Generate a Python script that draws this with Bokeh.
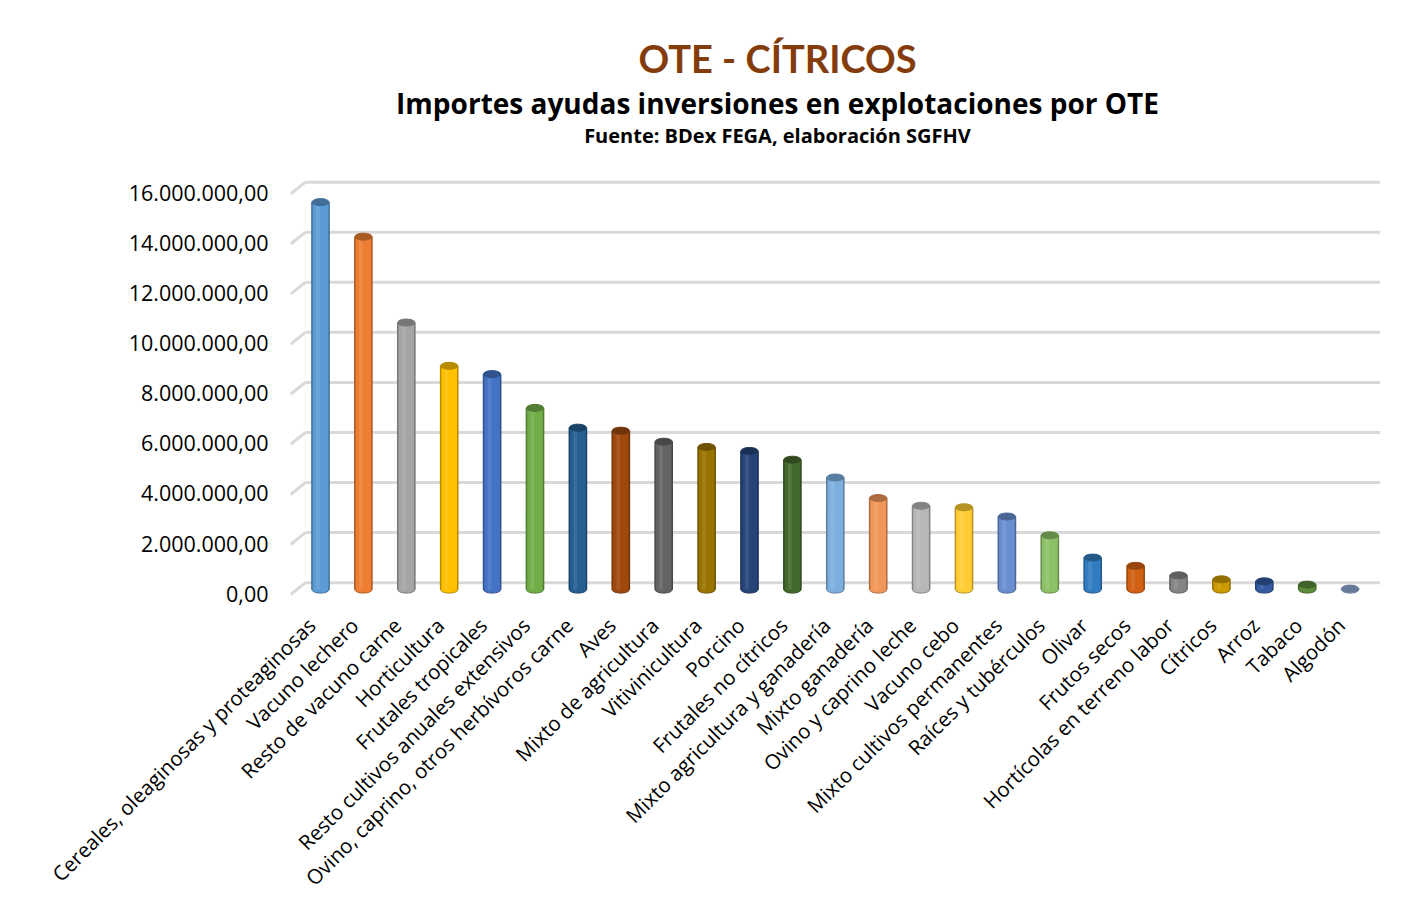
from math import pi
from bokeh.plotting import figure
from bokeh.models import Range1d, FixedTicker, Label
from bokeh.embed import file_html
from bokeh.resources import INLINE

# ---------------- data ----------------
categories = [
    "Cereales, oleaginosas y proteaginosas", "Vacuno lechero", "Resto de vacuno carne",
    "Horticultura", "Frutales tropicales", "Resto cultivos anuales extensivos",
    "Ovino, caprino, otros herbívoros carne", "Aves", "Mixto de agricultura",
    "Vitivinicultura", "Porcino", "Frutales no cítricos", "Mixto agricultura y ganadería",
    "Mixto ganadería", "Ovino y caprino leche", "Vacuno cebo", "Mixto cultivos permanentes",
    "Raíces y tubérculos", "Olivar", "Frutos secos", "Hortícolas en terreno labor",
    "Cítricos", "Arroz", "Tabaco", "Algodón",
]
values = [
    15480000, 14100000, 10670000, 8940000, 8610000, 7260000, 6470000, 6350000, 5910000,
    5700000, 5540000, 5190000, 4480000, 3660000, 3350000, 3290000, 2920000,
    2170000, 1280000, 950000, 570000, 410000, 330000, 200000, 40000,
]
colors = [
    "#5B9BD5", "#ED7D31", "#A5A5A5", "#FFC000", "#4472C4", "#70AD47", "#255E91", "#9E480E",
    "#636363", "#997300", "#264478", "#43682B", "#7CAFDD", "#F1975A", "#B7B7B7", "#FFCD33",
    "#698ED0", "#8CC168", "#327DC2", "#D26012", "#848484", "#CC9A00", "#335AA1", "#5A8A39",
    "#8EA9D2",
]
y_ticks = [0, 2000000, 4000000, 6000000, 8000000, 10000000, 12000000, 14000000, 16000000]
y_tick_labels = ["0,00", "2.000.000,00", "4.000.000,00", "6.000.000,00", "8.000.000,00",
                 "10.000.000,00", "12.000.000,00", "14.000.000,00", "16.000.000,00"]

title_text = "OTE - CÍTRICOS"
subtitle_text = "Importes ayudas inversiones en explotaciones por OTE"
source_text = "Fuente: BDex FEGA, elaboración SGFHV"

# ---------------- layout helpers (picture pixel -> data) ----------------
CAT_PX = 42.9      # px per category
X0_PX = 320.0      # x of first category centre
BASE_PX = 593.0    # y of value 0
UNIT_PX = 25.2 / 1e6  # px per unit value

def dx(px):
    return (px - X0_PX) / CAT_PX

def dy(py):
    return (BASE_PX - py) / UNIT_PX

def px2val(p):
    return p / UNIT_PX

def shade(hexcol, f):
    h = hexcol.lstrip("#")
    r, g, b = (int(h[i:i + 2], 16) for i in (0, 2, 4))
    if f < 1:
        r, g, b = (int(c * f) for c in (r, g, b))
    else:
        t = f - 1
        r, g, b = (int(c + (255 - c) * t) for c in (r, g, b))
    return "#%02x%02x%02x" % (r, g, b)

W, H = 1402, 904
TOP, BOTTOM, LEFT, RIGHT = 10, 610, 290, 1380
p = figure(width=W, height=H, output_backend="svg", toolbar_location=None,
           x_range=Range1d(dx(LEFT), dx(RIGHT)), y_range=Range1d(dy(BOTTOM), dy(TOP)),
           min_border_left=LEFT, min_border_right=W - RIGHT, min_border_top=TOP,
           min_border_bottom=H - BOTTOM)
p.outline_line_color = None
p.background_fill_color = "white"
p.border_fill_color = "white"
p.xgrid.visible = False
p.ygrid.visible = False

# ----- 3D-ish grid: back wall lines + floor diagonals -----
back_off = px2val(7)
front_off = px2val(-5)
gy_back = [v + back_off for v in y_ticks]
gy_front = [v + front_off for v in y_ticks]
p.segment(x0=[dx(305)] * len(y_ticks), x1=[dx(1380)] * len(y_ticks), y0=gy_back, y1=gy_back,
          line_color="#D9D9D9", line_width=3)
p.segment(x0=[dx(290)] * len(y_ticks), x1=[dx(305)] * len(y_ticks), y0=gy_front, y1=gy_back,
          line_color="#D9D9D9", line_width=3)

# ----- cylinders -----
xs = list(range(len(categories)))
bw = 0.40
dark = [shade(c, 0.72) for c in colors]
light = [shade(c, 1.18) for c in colors]
zeros = [0] * len(xs)

p.ellipse(x=xs, y=zeros, width=bw, height=7, height_units="screen",
          fill_color=colors, line_color=dark, line_width=1)
p.vbar(x=xs, top=values, bottom=zeros, width=bw, fill_color=colors, line_color=None)
p.vbar(x=[x - 0.06 for x in xs], top=values, bottom=zeros, width=bw * 0.22,
       fill_color=light, line_color=None, fill_alpha=0.55)
p.segment(x0=[x - bw / 2 for x in xs], x1=[x - bw / 2 for x in xs], y0=zeros, y1=values,
          line_color=dark, line_width=1.5)
p.segment(x0=[x + bw / 2 for x in xs], x1=[x + bw / 2 for x in xs], y0=zeros, y1=values,
          line_color=dark, line_width=1.5)
p.ellipse(x=xs, y=values, width=bw, height=7, height_units="screen",
          fill_color=dark, line_color=dark, line_width=1)

# ----- axes -----
lab_off = px2val(-4)
yt = [int(round(v + lab_off)) for v in y_ticks]
p.yaxis.ticker = FixedTicker(ticks=yt)
p.yaxis.major_label_overrides = {t: s for t, s in zip(yt, y_tick_labels)}
p.yaxis.axis_line_color = None
p.yaxis.major_tick_line_color = None
p.yaxis.minor_tick_line_color = None
p.yaxis.major_label_standoff = 16
p.yaxis.major_label_text_font = "Open Sans"
p.yaxis.major_label_text_font_size = "21.5px"
p.yaxis.major_label_text_color = "#000000"

xshift = 9 / CAT_PX
xt = [round(x - xshift, 4) for x in xs]
p.xaxis.ticker = FixedTicker(ticks=xt)
p.xaxis.major_label_overrides = {t: c for t, c in zip(xt, categories)}
p.xaxis.major_label_orientation = pi / 4
p.xaxis.axis_line_color = None
p.xaxis.major_tick_line_color = None
p.xaxis.minor_tick_line_color = None
p.xaxis.major_label_standoff = 9
p.xaxis.major_label_text_font = "Open Sans"
p.xaxis.major_label_text_font_size = "20.5px"
p.xaxis.major_label_text_color = "#000000"

# ----- titles -----
cx = dx(777)
p.add_layout(Label(x=cx, y=dy(58), text=title_text, text_font="Lato", text_font_style="bold",
                   text_font_size="38px", text_color="#843C0C", text_align="center",
                   text_baseline="middle"))
p.add_layout(Label(x=cx, y=dy(103), text=subtitle_text, text_font="Open Sans", text_font_style="bold",
                   text_font_size="28px", text_color="#000000", text_align="center",
                   text_baseline="middle"))
p.add_layout(Label(x=cx, y=dy(136), text=source_text, text_font="Open Sans", text_font_style="bold",
                   text_font_size="20px", text_color="#000000", text_align="center",
                   text_baseline="middle"))

open("out.html", "w").write(file_html(p, INLINE))
